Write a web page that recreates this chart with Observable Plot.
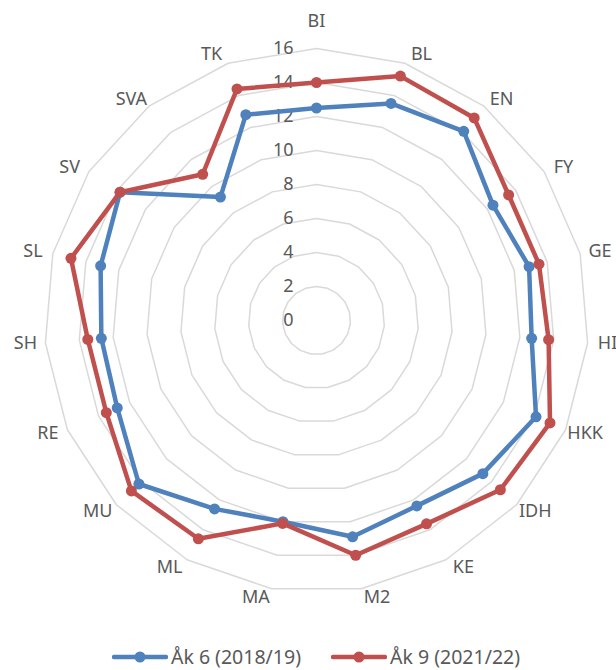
<!DOCTYPE html>
<html>
<head>
<meta charset="utf-8">
<script src="https://cdn.jsdelivr.net/npm/d3@7"></script>
<script src="https://cdn.jsdelivr.net/npm/@observablehq/plot@0.6"></script>
<style>
  html, body { margin: 0; padding: 0; background: #fff; }
  #chart { width: 616px; }
  .legend { display: flex; justify-content: center; align-items: center; gap: 30px;
    font-family: "Noto Sans", sans-serif; font-size: 19.5px; color: #595959; margin-top: 6px; line-height: 22px; padding-left: 16px; }
  .legend .item { display: flex; align-items: center; gap: 3px; }
  .legend svg { display: block; }
</style>
</head>
<body>
<div id="chart"></div>
<script>
const categories = ["BI","BL","EN","FY","GE","HI","HKK","IDH","KE","M2","MA","ML","MU","RE","SH","SL","SV","SVA","TK"];
const ak6 = [12.5,13.5,14.1,12.4,12.9,12.7,14.1,13.3,12.4,12.9,12.0,12.6,14.2,12.8,12.7,13.1,13.8,9.2,12.8];
const ak9 = [14.0,15.2,15.1,13.5,13.5,13.7,15.0,14.7,13.6,14.0,12.1,14.6,14.8,13.5,13.5,14.9,13.8,10.9,14.4];
const tickValues = [0,2,4,6,8,10,12,14,16];
const seriesNames = ["Åk 6 (2018/19)", "Åk 9 (2021/22)"];
const seriesColors = ["#4F81BD", "#C0504D"];

const n = categories.length;
const ang = i => (i % n) * 2 * Math.PI / n;
const px = (v, i) => v * Math.sin(ang(i));
const py = (v, i) => v * Math.cos(ang(i));

const W = 616, H = 640, cx = 316, cy = 320, k = 17;

// grid rings (closed polygons)
const rings = [];
for (const t of tickValues.filter(t => t > 0)) {
  for (let i = 0; i <= n; i++) rings.push({t, x: px(t, i), y: py(t, i)});
}

// series points
const seriesData = [ak6, ak9];
const pts = [];
seriesData.forEach((vals, s) => {
  for (let i = 0; i <= n; i++) {
    pts.push({series: seriesNames[s], i, v: vals[i % n], x: px(vals[i % n], i), y: py(vals[i % n], i), last: i === n});
  }
});

// category labels placed just outside the outer ring (in scale units)
const labels = categories.map((c, i) => {
  const s = Math.sin(ang(i)), co = Math.cos(ang(i));
  const sg = Math.abs(s) < 1e-9 ? 0 : Math.sign(s);
  const x = (292 * s + sg * 15 * (1 - Math.abs(s))) / k;
  const y = (sg === 0 ? 299 * co : 281 * co) / k;
  return {c, x, y};
});

const chart = Plot.plot({
  width: W,
  height: H,
  margin: 0,
  x: {domain: [-cx / k, (W - cx) / k], axis: null},
  y: {domain: [-(H - cy) / k, cy / k], axis: null},
  color: {domain: seriesNames, range: seriesColors},
  style: {fontFamily: "'Noto Sans', sans-serif", background: "#fff"},
  marks: [
    Plot.line(rings, {x: "x", y: "y", z: "t", stroke: "#d9d9d9", strokeWidth: 1.5}),
    Plot.text(tickValues, {x: 0, y: d => d, text: d => String(d), textAnchor: "end", dx: -23, fill: "#595959", fontSize: 18}),
    Plot.text(labels, {x: "x", y: "y", text: "c", fill: "#595959", fontSize: 18}),
    Plot.line(pts, {x: "x", y: "y", z: "series", stroke: "series", strokeWidth: 4.5, strokeLinejoin: "round"}),
    Plot.dot(pts.filter(d => !d.last), {x: "x", y: "y", fill: "series", r: 5.5})
  ]
});
document.getElementById("chart").appendChild(chart);

const legend = document.createElement("div");
legend.className = "legend";
seriesNames.forEach((name, s) => {
  const item = document.createElement("div");
  item.className = "item";
  const sw = d3.create("svg").attr("width", 56).attr("height", 14);
  sw.append("line").attr("x1", 2).attr("x2", 54).attr("y1", 7).attr("y2", 7)
    .attr("stroke", seriesColors[s]).attr("stroke-width", 4.5).attr("stroke-linecap", "round");
  sw.append("circle").attr("cx", 28).attr("cy", 7).attr("r", 5.5).attr("fill", seriesColors[s]);
  item.appendChild(sw.node());
  const t = document.createElement("span");
  t.textContent = name;
  item.appendChild(t);
  legend.appendChild(item);
});
document.getElementById("chart").appendChild(legend);
</script>
</body>
</html>
